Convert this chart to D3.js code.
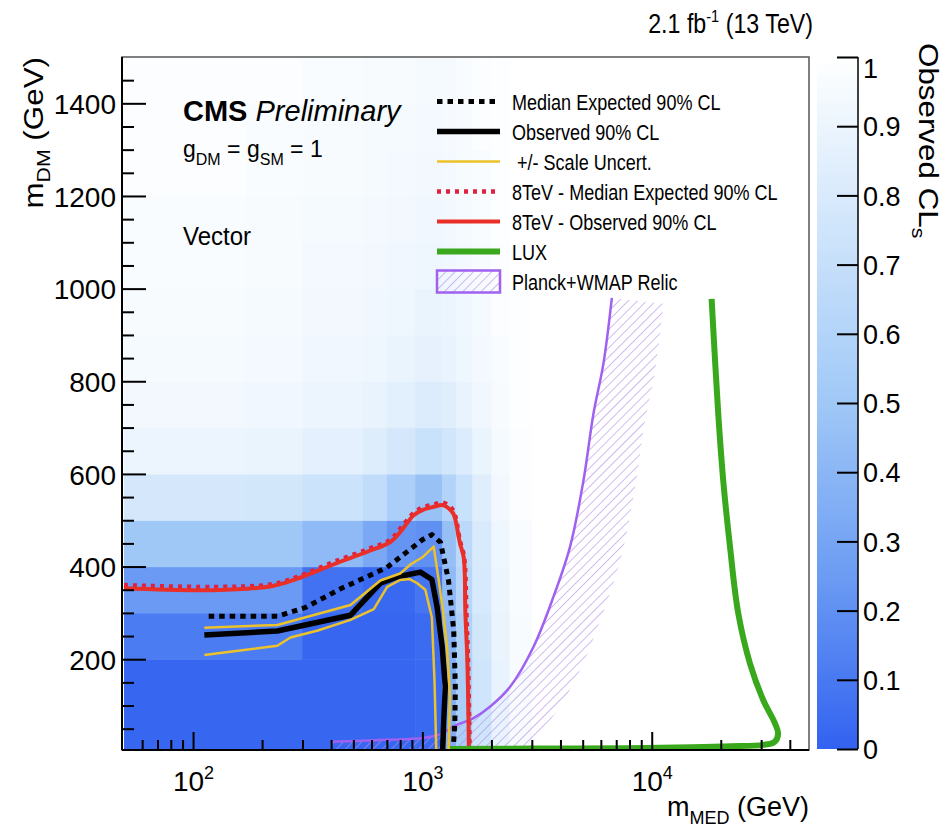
<!DOCTYPE html>
<html><head><meta charset="utf-8">
<script src="https://cdn.jsdelivr.net/npm/d3@7"></script>
<style>
body{margin:0;background:#fff}
svg{display:block}
text{font-family:"Liberation Sans",Arial,Helvetica,sans-serif}
</style>
</head><body>
<svg id="chart" width="949" height="828"></svg>
<script>
// ---------------- data ----------------
// heat-map bins (GeV) and observed CLs per bin (rows: bottom -> top)
const xEdges = [50,170,300,550,700,930,1220,1400,1650,2000,2400,3000,50000];
const yEdges = [0,100,200,300,400,500,600,700,800,900,1000,1100,1200,1300,1400,1500];
const clsValues = [
 [0.02,0.02,0.02,0.02,0.02,0.03,0.35,0.55,0.75,0.88,0.96,1.0],
 [0.02,0.02,0.02,0.02,0.02,0.03,0.35,0.55,0.75,0.88,0.96,1.0],
 [0.11,0.11,0.02,0.02,0.02,0.04,0.38,0.58,0.77,0.89,0.96,1.0],
 [0.24,0.24,0.07,0.03,0.03,0.08,0.42,0.62,0.79,0.90,0.97,1.0],
 [0.50,0.50,0.42,0.32,0.22,0.20,0.45,0.65,0.80,0.91,0.97,1.0],
 [0.78,0.77,0.73,0.67,0.56,0.46,0.60,0.72,0.84,0.93,0.98,1.0],
 [0.90,0.89,0.86,0.83,0.78,0.72,0.76,0.82,0.89,0.95,0.98,1.0],
 [0.93,0.92,0.90,0.88,0.85,0.82,0.84,0.88,0.92,0.96,0.99,1.0],
 [0.95,0.94,0.92,0.91,0.89,0.87,0.88,0.91,0.94,0.97,0.99,1.0],
 [0.96,0.95,0.93,0.92,0.91,0.89,0.90,0.92,0.95,0.98,0.99,1.0],
 [0.97,0.96,0.94,0.93,0.92,0.91,0.92,0.94,0.96,0.98,1.0,1.0],
 [0.97,0.96,0.95,0.94,0.93,0.92,0.93,0.95,0.97,0.99,1.0,1.0],
 [0.98,0.97,0.96,0.95,0.94,0.93,0.94,0.96,0.97,0.99,1.0,1.0],
 [0.98,0.97,0.96,0.95,0.95,0.94,0.95,0.96,0.98,0.99,1.0,1.0],
 [0.98,0.98,0.97,0.96,0.96,0.95,0.95,0.97,0.98,0.99,1.0,1.0]
];
// contours: [m_MED, m_DM] in GeV
const expected13 = [[117,293],[235,293],[310,312],[440,352],[700,398],[916,443],[1000,458],[1100,469],[1200,452],[1300,370],[1370,262],[1392,140],[1385,60],[1360,0]];
const observed13 = [[112,252],[233,261],[486,295],[656,364],[780,378],[980,388],[1100,372],[1157,315],[1220,227],[1259,141],[1240,70],[1225,0]];
const scaleUp = [[112,268],[233,274],[486,317],[656,370],[800,385],[890,405],[1000,420],[1120,443],[1178,371],[1240,290],[1281,227],[1320,119],[1300,0]];
const scaleDown = [[112,209],[233,229],[266,247],[350,262],[486,285],[614,308],[702,356],[800,371],[880,373],[950,364],[1030,350],[1100,290],[1130,150],[1150,0]];
const expected8 = [[50,360],[122,356],[222,362],[300,382],[411,410],[575,437],[725,458],[802,482],[916,516],[1000,527],[1122,534],[1220,538],[1300,532],[1368,519],[1459,455],[1520,420],[1555,300],[1580,200],[1600,60],[1605,0]];
const observed8 = [[50,353],[122,349],[222,358],[300,378],[411,405],[575,432],[725,453],[802,475],[916,511],[1000,522],[1122,529],[1220,533],[1300,526],[1368,513],[1459,450],[1514,420],[1540,300],[1570,200],[1590,60],[1595,0]];
const lux = [[1320,6],[3000,7],[8000,8],[15000,10],[22000,12],[30600,15],[34400,22],[35570,40],[34430,62],[30620,112],[26800,191],[23840,299],[21940,443],[20500,586],[19500,730],[18240,978]];
const relic = [[400,22],[700,26],[1000,30],[1200,38],[1368,55],[1672,73],[1977,98],[2417,141],[3053,227],[3730,335],[4405,443],[5040,586],[5570,730],[6157,838],[6700,980]];
// ticks & labels
const yMajorTicks = [200,400,600,800,1000,1200,1400];
const yMinorTicks = [50,100,150,250,300,350,450,500,550,650,700,750,850,900,950,1050,1100,1150,1250,1300,1350,1450];
const xMajorTicks = [100,1000,10000];
const xMajorExp = ["2","3","4"];
const xMinorTicks = [60,70,80,90,200,300,400,500,600,700,800,900,2000,3000,4000,5000,6000,7000,8000,9000,20000,30000,40000];
const zTicks = [0,0.1,0.2,0.3,0.4,0.5,0.6,0.7,0.8,0.9,1];
const legendLabels = ["Median Expected 90% CL","Observed 90% CL"," +/- Scale Uncert.","8TeV - Median Expected 90% CL","8TeV - Observed 90% CL","LUX","Planck+WMAP Relic"];

// ---------------- layout / styles ----------------
const P = {l:122, t:57, r:809, b:750};
const svg = d3.select("#chart");
const x = d3.scaleLog().domain([49,48500]).range([P.l,P.r]);
const y = d3.scaleLinear().domain([4,1500]).range([P.b,P.t]);
const color = d3.scaleLinear().domain([0,0.25,0.5,0.75,1]).range(["#3262f0","#6c9cf3","#a0c8f7","#cfe5fb","#ffffff"]);

const sty = {
  exp13:{stroke:"#000",w:5,dash:"5.5,5"},
  obs13:{stroke:"#000",w:5.5,dash:null},
  unc:{stroke:"#ecc22a",w:2.5,dash:null},
  exp8:{stroke:"#e0203c",w:4.5,dash:"4,5"},
  obs8:{stroke:"#ea2e28",w:4,dash:null},
  lux:{stroke:"#3aa81c",w:6,dash:null},
  relic:{stroke:"#a060f0",w:2.5}
};

const defs = svg.append("defs");
defs.append("clipPath").attr("id","plotclip").append("rect")
  .attr("x",P.l).attr("y",P.t).attr("width",P.r-P.l).attr("height",P.b-P.t);
const pat = defs.append("pattern").attr("id","hatch").attr("patternUnits","userSpaceOnUse")
  .attr("width",6.5).attr("height",6.5).attr("patternTransform","rotate(45)");
pat.append("line").attr("x1",0).attr("y1",0).attr("x2",0).attr("y2",6.5)
  .attr("stroke","#b48ee6").attr("stroke-width",1.2);

function addText(parent, px, py, str, o={}) {
  let tr = `translate(${px},${py})`;
  if (o.rotate) tr += ` rotate(${o.rotate})`;
  if (o.sx || o.sy) tr += ` scale(${o.sx||1},${o.sy||1})`;
  const t = parent.append("text").attr("transform",tr)
    .attr("font-size",o.size||28).attr("text-anchor",o.anchor||"start").attr("fill","#000");
  if (o.weight) t.attr("font-weight",o.weight);
  if (o.italic) t.attr("font-style","italic");
  if (str!=null) t.text(str);
  return t;
}

// ---------------- heat map ----------------
const plot = svg.append("g").attr("clip-path","url(#plotclip)");
const cells = [];
clsValues.forEach((row,i)=>row.forEach((v,j)=>cells.push({x0:xEdges[j],x1:xEdges[j+1],y0:yEdges[i],y1:yEdges[i+1],v})));
plot.selectAll("rect.cell").data(cells).join("rect").attr("class","cell")
  .attr("x",d=>x(d.x0)).attr("width",d=>x(d.x1)-x(d.x0)+0.6)
  .attr("y",d=>y(d.y1)).attr("height",d=>y(d.y0)-y(d.y1)+0.6)
  .attr("fill",d=>color(d.v));

// ---------------- curves ----------------
const lineLin = d3.line().x(d=>x(d[0])).y(d=>y(d[1]));
const lineCR = d3.line().x(d=>x(d[0])).y(d=>y(d[1])).curve(d3.curveCatmullRom.alpha(0.5));

// relic hatch band
const hatchPath = plot.append("path").attr("fill","url(#hatch)").attr("stroke","none");
const relicPath = plot.append("path").datum(relic).attr("d",lineCR)
  .attr("fill","none").attr("stroke",sty.relic.stroke).attr("stroke-width",sty.relic.w);
(function(){
  const node = relicPath.node(), L = node.getTotalLength(), W = 52;
  const pts = d3.range(0,L,2).map(l=>node.getPointAtLength(l));
  pts.push(node.getPointAtLength(L));
  const off = pts.map((p,i)=>{
    const a = pts[Math.max(0,i-3)], b = pts[Math.min(pts.length-1,i+3)];
    const tx=b.x-a.x, ty=b.y-a.y, n=Math.hypot(tx,ty)||1;
    return [p.x + W*(-ty/n), p.y + W*(tx/n)];
  });
  const poly = pts.map(p=>[p.x,p.y]).concat(off.reverse());
  hatchPath.attr("d","M"+poly.map(p=>p[0].toFixed(1)+","+p[1].toFixed(1)).join("L")+"Z");
})();

function drawCurve(data, s, gen) {
  const p = plot.append("path").datum(data).attr("d",gen)
    .attr("fill","none").attr("stroke",s.stroke).attr("stroke-width",s.w)
    .attr("stroke-linejoin","round");
  if (s.dash) p.attr("stroke-dasharray",s.dash);
  return p;
}
drawCurve(expected8, sty.exp8, lineCR);
drawCurve(observed8, sty.obs8, lineCR);
drawCurve(expected13, sty.exp13, lineLin);
drawCurve(observed13, sty.obs13, lineLin);
drawCurve(scaleUp, sty.unc, lineLin);
drawCurve(scaleDown, sty.unc, lineLin);
drawCurve(lux, sty.lux, lineCR);

// ---------------- frame & axes ----------------
svg.append("rect").attr("x",P.l).attr("y",P.t).attr("width",P.r-P.l).attr("height",P.b-P.t)
  .attr("fill","none").attr("stroke","#555").attr("stroke-width",1.5);

function styleAxis(g){ g.select(".domain").remove(); g.selectAll(".tick line").attr("stroke","#000").attr("stroke-width",2); g.attr("font-family",null).attr("font-size",null); }

svg.append("g").attr("transform",`translate(${P.l},0)`)
  .call(d3.axisLeft(y).tickValues(yMinorTicks).tickSize(-12).tickFormat(""))
  .call(styleAxis);
const yAx = svg.append("g").attr("transform",`translate(${P.l},0)`)
  .call(d3.axisLeft(y).tickValues(yMajorTicks).tickSize(-24).tickPadding(6).tickFormat(d3.format("d")))
  .call(styleAxis);
yAx.selectAll("text").attr("font-size",28).attr("fill","#000").attr("dy","0.36em");

svg.append("g").attr("transform",`translate(0,${P.b})`)
  .call(d3.axisBottom(x).tickValues(xMinorTicks).tickSize(-10).tickFormat(""))
  .call(styleAxis);
const xAx = svg.append("g").attr("transform",`translate(0,${P.b})`)
  .call(d3.axisBottom(x).tickValues(xMajorTicks).tickSize(-18))
  .call(styleAxis);
xAx.selectAll(".tick text").each(function(d,i){
  const t = d3.select(this).text(null).attr("y",41).attr("dy",null).attr("font-size",28).attr("fill","#000");
  t.append("tspan").text("10");
  t.append("tspan").attr("dy",-12).attr("font-size",18).text(xMajorExp[i]);
});

// axis lines
svg.append("line").attr("x1",P.l).attr("x2",P.l).attr("y1",P.t).attr("y2",P.b).attr("stroke","#000").attr("stroke-width",2);
svg.append("line").attr("x1",P.l).attr("x2",P.r).attr("y1",P.b).attr("y2",P.b).attr("stroke","#000").attr("stroke-width",2);

// ---------------- colour bar ----------------
const cb = {l:817, r:858};
const zs = d3.scaleLinear().domain([0,1]).range([749,P.t]);
const grad = defs.append("linearGradient").attr("id","cbgrad").attr("x1",0).attr("y1",1).attr("x2",0).attr("y2",0);
d3.range(0,1.0001,0.05).forEach(v=>grad.append("stop").attr("offset",v).attr("stop-color",color(v)));
svg.append("rect").attr("x",cb.l).attr("y",P.t).attr("width",cb.r-cb.l).attr("height",749-P.t).attr("fill","url(#cbgrad)");
const zAx = svg.append("g").attr("transform",`translate(${cb.r},0)`)
  .call(d3.axisRight(zs).tickValues(zTicks).tickSize(-21).tickPadding(5)
    .tickFormat(d=> d===0?"0":d===1?"1":d3.format(".1f")(d)))
  .call(g=>g.selectAll(".tick line").attr("stroke","#000").attr("stroke-width",2))
  .call(g=>g.select(".domain").attr("stroke","#000").attr("stroke-width",1.5).attr("d",`M0,${P.t}V749`));
zAx.attr("font-family",null).attr("font-size",null);
zAx.selectAll("text").attr("font-size",27).attr("fill","#000").attr("dy","0.36em");
zAx.selectAll(".tick").filter(d=>d===1).select("text").attr("dy","0.75em");

// ---------------- texts ----------------
const cms = addText(svg,183,121,null,{size:29});
cms.append("tspan").attr("font-weight","bold").text("CMS");
cms.append("tspan").attr("font-style","italic").text(" Preliminary");

const gl = addText(svg,183,157,null,{size:23});
gl.append("tspan").text("g");
gl.append("tspan").attr("font-size",16).attr("dy",8).text("DM");
gl.append("tspan").attr("dy",-8).text(" = g");
gl.append("tspan").attr("font-size",16).attr("dy",8).text("SM");
gl.append("tspan").attr("dy",-8).text(" = 1");

addText(svg,183,245,"Vector",{size:25,sx:0.96});

const lumi = addText(svg,813,33,null,{size:27,anchor:"end",sx:0.86});
lumi.append("tspan").text("2.1 fb");
lumi.append("tspan").attr("font-size",17).attr("dy",-11).text("-1");
lumi.append("tspan").attr("dy",11).text(" (13 TeV)");

const yl = addText(svg,43,57,null,{size:28,anchor:"end",rotate:-90,sx:1.12});
yl.append("tspan").text("m");
yl.append("tspan").attr("font-size",19).attr("dy",7).text("DM");
yl.append("tspan").attr("dy",-7).text(" (GeV)");

const xl = addText(svg,809,816,null,{size:27,anchor:"end"});
xl.append("tspan").text("m");
xl.append("tspan").attr("font-size",18).attr("dy",8).text("MED");
xl.append("tspan").attr("dy",-8).text(" (GeV)");

const zl = addText(svg,919,43,null,{size:28,rotate:90,sx:1.12});
zl.append("tspan").text("Observed CL");
zl.append("tspan").attr("font-size",19).attr("dy",7).text("s");

// ---------------- legend ----------------
const legStyles = [sty.exp13, sty.obs13, sty.unc, sty.exp8, sty.obs8, sty.lux, null];
const legY = d3.scaleLinear().domain([0,6]).range([101.5,281.5]);
const leg = svg.append("g");
legendLabels.forEach((lab,i)=>{
  const cy = legY(i), s = legStyles[i];
  if (s) {
    const l = leg.append("line").attr("x1",437).attr("x2",500).attr("y1",cy).attr("y2",cy)
      .attr("stroke",s.stroke).attr("stroke-width",s.w);
    if (s.dash) l.attr("stroke-dasharray",s.dash);
  } else {
    leg.append("rect").attr("x",437).attr("y",cy-11).attr("width",63).attr("height",22)
      .attr("fill","url(#hatch)").attr("stroke",sty.relic.stroke).attr("stroke-width",2.5);
  }
  addText(leg,512,cy+8.5,lab,{size:22,sx:0.82}).style("white-space","pre");
});
</script>
</body></html>
